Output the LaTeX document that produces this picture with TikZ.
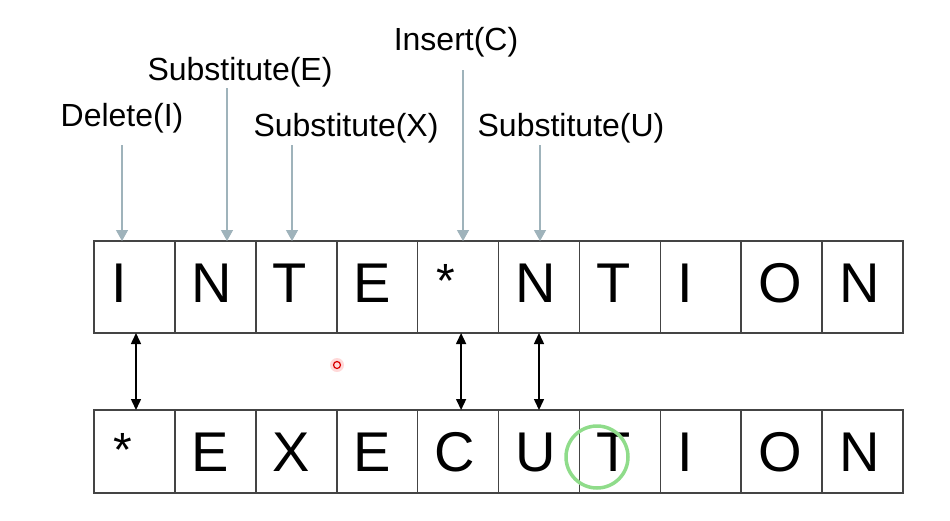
\documentclass[tikz,border=0pt]{standalone}
\usepackage{fontspec}
\setmainfont{Liberation Sans}
\usepackage{xcolor}
\usepackage{tikz}
\usetikzlibrary{arrows.meta, calc, positioning}
\definecolor{opgray}{HTML}{9FB3BB}
\definecolor{boxgray}{HTML}{444444}
\definecolor{hlgreen}{HTML}{8FDC8A}

\newcommand{\gapmark}{\hspace*{2pt}\raisebox{5pt}{\fontsize{48}{48}\selectfont *}}

\begin{document}
\begin{tikzpicture}[x=1pt, y=-1pt,
        cellbox/.style={rectangle, draw=boxgray, line width=1.6pt, outer sep=0pt, inner ysep=0pt, inner xsep=17pt,
            text width=46.9pt, align=left, text height=40pt, font=\fontsize{56}{56}\selectfont},
        oplabel/.style={font=\fontsize{32}{32}\selectfont, inner sep=2pt},
        oparrow/.style={draw=opgray, line width=1.3pt, -{Triangle[length=11pt,width=12pt]}},
        alignarrow/.style={black, line width=1.5pt, {Triangle[length=11pt,width=10pt]}-{Triangle[length=11pt,width=10pt]}}]
        \useasboundingbox (0,0) rectangle (950,520);
            % the two strings
            \foreach \ch [count=\i from 0] in {I,N,T,E,\gapmark,N,T,I,O,N}
                \node[cellbox, minimum height=92pt, text depth=10pt] (t\i) at (134.5+80.9*\i, 287) {\ch};
            \foreach \ch [count=\i from 0] in {\gapmark,E,X,E,C,U,T,I,O,N}
                \node[cellbox, minimum height=83pt, text depth=0pt] (b\i) at (134.5+80.9*\i, 451.5) {\ch};

            % operations
            \node[oplabel] (lbDel) at (122,118) {Delete(I)};
            \node[oplabel] (lbSubE) at (240,72) {Substitute(E)};
            \node[oplabel] (lbSubX) at (346,128) {Substitute(X)};
            \node[oplabel] (lbIns) at (456,42) {Insert(C)};
            \node[oplabel] (lbSubU) at (571,128) {Substitute(U)};

            \coordinate (sDel) at (122,145);
            \coordinate (sSubE) at (227,88);
            \coordinate (sSubX) at (292,145);
            \coordinate (sIns) at (463,70);
            \coordinate (sSubU) at (540,145);

            \draw[oparrow] (sDel) -- (sDel |- t0.north);
            \draw[oparrow] (sSubE) -- (sSubE |- t1.north);
            \draw[oparrow] (sSubX) -- (sSubX |- t2.north);
            \draw[oparrow] (sIns) -- (sIns |- t4.north);
            \draw[oparrow] (sSubU) -- (sSubU |- t5.north);

            % alignment
            \draw[alignarrow] ([xshift=1.5pt]t0.south) -- ([xshift=1.5pt]b0.north);
            \draw[alignarrow] ([xshift=3pt]t4.south) -- ([xshift=3pt]b4.north);
            \draw[alignarrow] (t5.south) -- (b5.north);

            % marks
            \node[circle, draw=hlgreen, line width=3.5pt, minimum size=62pt, inner sep=0pt] (hl) at (597,457) {};
            \node[circle, fill=red!15, minimum size=14pt, inner sep=0pt] (dotglow) at (337,365) {};
            \node[circle, draw=red!85!black, line width=1.2pt, minimum size=7pt, inner sep=0pt] (dot) at (337,365) {};
        \end{tikzpicture}
\end{document}
